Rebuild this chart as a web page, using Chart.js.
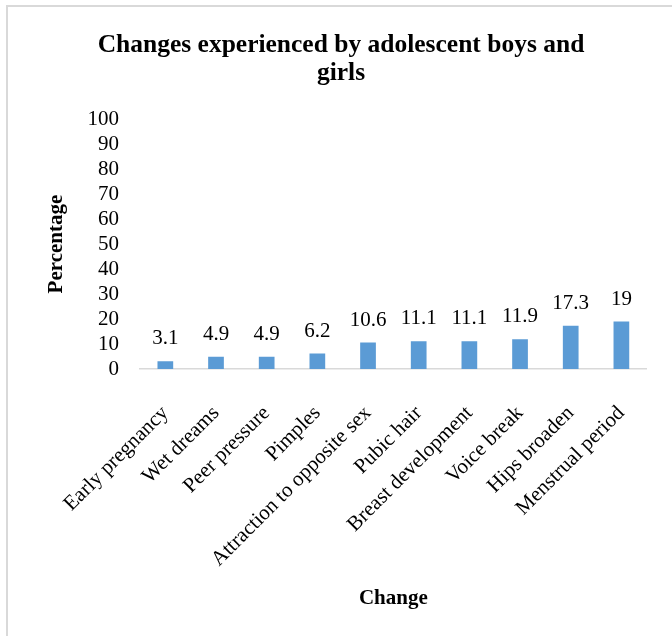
<!DOCTYPE html>
<html>
<head>
<meta charset="utf-8">
<script src="https://cdn.jsdelivr.net/npm/chart.js@4/dist/chart.umd.min.js"></script>
<style>
  html, body { margin: 0; padding: 0; background: #fff; }
  #wrap { position: relative; width: 672px; height: 636px; overflow: hidden; }
  #frame { position: absolute; left: 6px; top: 5px; width: 700px; height: 700px; border-left: 2px solid #d9d9d9; border-top: 2px solid #d9d9d9; }
  canvas { position: absolute; left: 0; top: 0; }
</style>
</head>
<body>
<div id="wrap">
  <div id="frame"></div>
  <canvas id="chart" width="672" height="636"></canvas>
</div>
<script>
const categories = ['Early pregnancy', 'Wet dreams', 'Peer pressure', 'Pimples', 'Attraction to opposite sex', 'Pubic hair', 'Breast development', 'Voice break', 'Hips broaden', 'Menstrual period'];
const percentages = [3.1, 4.9, 4.9, 6.2, 10.6, 11.1, 11.1, 11.9, 17.3, 19];
const yTicks = [0, 10, 20, 30, 40, 50, 60, 70, 80, 90, 100];

const serif = "'Liberation Serif', 'Times New Roman', serif";
const barColor = '#5b9bd5';

// value labels above each bar
const valueLabels = {
  id: 'valueLabels',
  afterDatasetsDraw(chart) {
    const ctx = chart.ctx;
    const meta = chart.getDatasetMeta(0);
    ctx.save();
    ctx.font = `21px ${serif}`;
    ctx.fillStyle = '#000';
    ctx.textAlign = 'center';
    ctx.textBaseline = 'bottom';
    meta.data.forEach((bar, i) => {
      ctx.fillText(String(percentages[i]), bar.x, bar.y - 12);
    });
    ctx.restore();
  }
};

new Chart(document.getElementById('chart'), {
  type: 'bar',
  data: {
    labels: categories,
    datasets: [{ data: percentages, backgroundColor: barColor, categoryPercentage: 1, barPercentage: 0.31 }]
  },
  options: {
    responsive: false,
    animation: false,
    layout: { padding: { left: 20, right: 10, top: 31, bottom: 25 } },
    plugins: {
      legend: { display: false },
      tooltip: { enabled: false },
      title: {
        display: true,
        text: ['Changes experienced by adolescent boys and', 'girls'],
        color: '#000',
        font: { family: serif, size: 25.5, weight: 'bold', lineHeight: 1.1 },
        padding: { top: 0, bottom: 32 }
      }
    },
    scales: {
      x: {
        grid: { display: false, drawTicks: false },
        border: { display: true, color: '#d9d9d9', width: 1.5 },
        ticks: { color: '#000', font: { family: serif, size: 21 }, minRotation: 45, maxRotation: 45, autoSkip: false, padding: 32 },
        afterFit: (scale) => { scale.height = 242; },
        title: { display: true, text: 'Change', color: '#000', font: { family: serif, size: 21, weight: 'bold' }, padding: { top: 2, bottom: 0 } }
      },
      y: {
        min: 0,
        max: 100,
        afterBuildTicks: (scale) => { scale.ticks = yTicks.map((v) => ({ value: v })); },
        grid: { display: false, drawTicks: false },
        border: { display: false },
        ticks: { color: '#000', font: { family: serif, size: 21 }, padding: 21, autoSkip: false },
        afterFit: (scale) => { scale.width = 120; },
        title: { display: true, text: 'Percentage', color: '#000', font: { family: serif, size: 21, weight: 'bold' }, padding: { top: 24, bottom: 0 } }
      },
      // empty right-hand strip so the plot ends where the original does
      yRight: {
        position: 'right',
        grid: { display: false, drawTicks: false },
        border: { display: false },
        ticks: { display: false },
        afterFit: (scale) => { scale.width = 6; }
      }
    }
  },
  plugins: [valueLabels]
});
</script>
</body>
</html>
